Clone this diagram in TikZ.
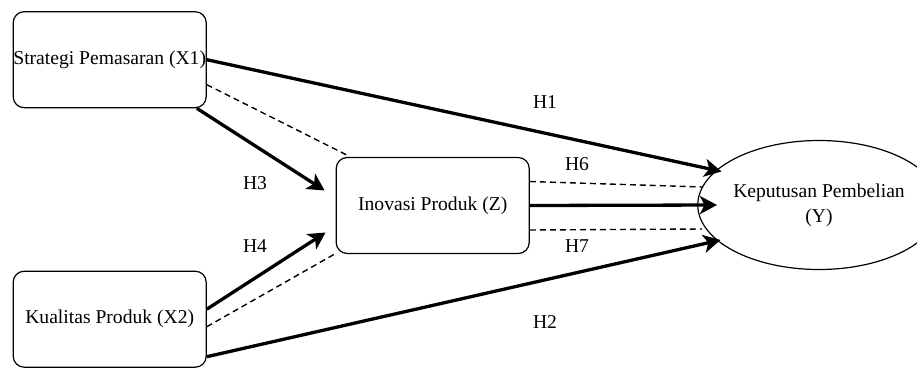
\documentclass[tikz,border=0pt]{standalone}
\usepackage{fontspec}
\setmainfont{Liberation Serif}
\usetikzlibrary{arrows.meta,calc,shapes.geometric}
\tikzset{
  varbox/.style={draw, line width=1.2pt, rounded corners=11pt, minimum width=193pt,
    minimum height=96pt, inner sep=0pt, align=center},
  varoval/.style={draw, line width=1.2pt, ellipse, minimum width=193pt,
    minimum height=129pt, inner sep=0pt, align=center},
  direct/.style={line width=3.3pt, -{Stealth[length=17pt,width=18pt,inset=4.5pt]}},
  mediated/.style={line width=1.4pt, dash pattern=on 6pt off 4pt},
  hlabel/.style={inner sep=0pt}
}
\begin{document}
\begin{tikzpicture}[x=1pt, y=-1pt, font=\fontsize{19.6}{25}\selectfont]
  \useasboundingbox (0,0) rectangle (917,370);

  % constructs
  \node[varbox] (x1) at (109.7,59.7) {Strategi Pemasaran (X1)};
  \node[varbox] (x2) at (109.7,319.2) {Kualitas Produk (X2)};
  \node[varbox] (z)  at (432.7,205.5) {Inovasi Produk (Z)};
  \node[varoval] (y) at (819,205) {Keputusan Pembelian\\(Y)};

  % arrow ends short of the outcome
  \coordinate (h1end) at (721.5,171.5);
  \coordinate (h2end) at (720.5,240);
  \coordinate (zend)  at (717,205);

  % direct paths
  \draw[direct] (x1.east) -- (h1end);
  \draw[direct] (x2.east |- 0,356.7) -- (h2end);
  \draw[direct] ($(x1.south east)+(-10,0)$) -- ($(z.west)+(-11,-15)$);
  \draw[direct] ($(x2.east)+(0,-10)$) -- ($(z.west)+(-10,27)$);
  \draw[direct] (z.east) -- (zend);

  % mediated paths
  \draw[mediated] ($(x1.east)+(0,25)$) -- ($(z.north west)+(11,-2)$);
  \draw[mediated] ($(x2.east)+(0,7.5)$) -- ($(z.south west)+(-1,0)$);
  \draw[mediated] ($(z.east)+(0,-24)$) -- ($(y.west)+(5,-18)$);
  \draw[mediated] ($(z.east)+(0,24.5)$) -- ($(y.west)+(5,24)$);

  % hypothesis labels
  \node[hlabel] (lh1) at (545,102) {H1};
  \node[hlabel] (lh2) at (545,322) {H2};
  \node[hlabel] (lh3) at (255,183) {H3};
  \node[hlabel] (lh4) at (255,246) {H4};
  \node[hlabel] (lh6) at (577,164) {H6};
  \node[hlabel] (lh7) at (577,246) {H7};
\end{tikzpicture}
\end{document}
